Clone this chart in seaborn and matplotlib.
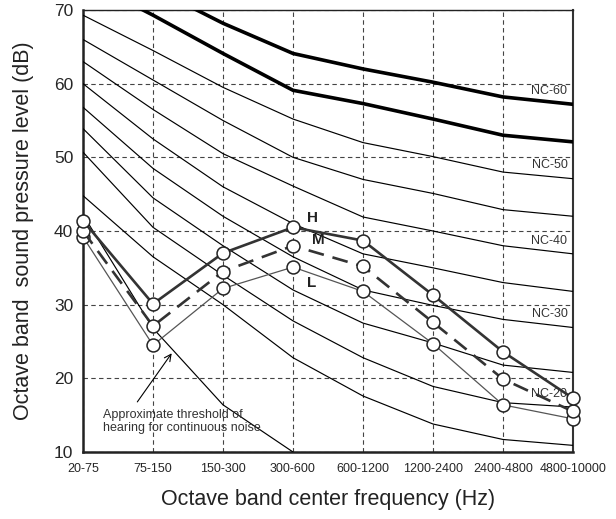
import numpy as np
import pandas as pd
import matplotlib
matplotlib.use("Agg")
import matplotlib.pyplot as plt
from matplotlib.ticker import MultipleLocator
import seaborn as sns

# ---------------- data ----------------
bands = ["20-75", "75-150", "150-300", "300-600", "600-1200",
         "1200-2400", "2400-4800", "4800-10000"]

nc_names = ["NC-15", "NC-20", "NC-25", "NC-30", "NC-35",
            "NC-40", "NC-45", "NC-50", "NC-55", "NC-60"]
nc15 = [44.8, 36.5, 30.0, 22.8, 17.6, 13.8, 11.7, 10.9]
nc20 = [50.7, 40.5, 34.0, 27.8, 22.8, 18.9, 16.7, 16.1]
nc25 = [53.9, 44.5, 38.0, 32.0, 27.5, 24.8, 21.8, 20.8]
nc30 = [56.8, 48.5, 42.0, 36.5, 32.0, 29.9, 28.0, 26.9]
nc35 = [60.0, 52.5, 46.0, 41.0, 36.9, 35.0, 33.0, 31.8]
nc40 = [63.0, 56.5, 50.5, 46.1, 41.9, 40.0, 38.0, 36.9]
nc45 = [66.0, 60.5, 55.0, 50.0, 47.0, 45.1, 42.9, 42.0]
nc50 = [69.3, 64.5, 59.5, 55.2, 52.0, 50.1, 48.0, 47.1]
nc55 = [74.2, 69.3, 64.1, 59.1, 57.3, 55.2, 53.0, 52.1]
nc60 = [78.5, 73.0, 68.2, 64.1, 62.0, 60.2, 58.2, 57.2]
nc_values = [nc15, nc20, nc25, nc30, nc35, nc40, nc45, nc50, nc55, nc60]
nc_bold = ["NC-55", "NC-60"]
nc_labeled = ["NC-20", "NC-30", "NC-40", "NC-50", "NC-60"]

threshold = [42.2, 26.8, 16.4, 10.0]

level_H = [41.4, 30.1, 37.0, 40.5, 38.7, 31.3, 23.6, 17.3]
level_M = [40.0, 27.1, 34.5, 38.0, 35.2, 27.6, 19.9, 15.5]
level_L = [39.2, 24.5, 32.2, 35.1, 31.8, 24.7, 16.4, 14.5]

y_ticks = [10, 20, 30, 40, 50, 60, 70]

# ---------------- style ----------------
sns.set_theme(style="white")
plt.rcParams["font.family"] = ["Liberation Sans", "DejaVu Sans"]

fig = plt.figure(figsize=(6.16, 5.19), dpi=100)
ax = fig.add_axes([83 / 616, 1 - 452 / 519, 490 / 616, 442 / 519])

pos = np.arange(len(bands))

# NC curves
for name, vals in zip(nc_names, nc_values):
    lw = 2.6 if name in nc_bold else 0.85
    sns.lineplot(x=pos, y=vals, ax=ax, color="black", lw=lw, sort=False,
                 estimator=None, legend=False, zorder=3)

# threshold of hearing
sns.lineplot(x=pos[:len(threshold)], y=threshold, ax=ax, color="black",
             lw=0.85, sort=False, estimator=None, legend=False, zorder=3)

# measured levels
mk = dict(marker="o", markersize=9.3, markerfacecolor="white",
          markeredgecolor="#222222", markeredgewidth=1.1, clip_on=False,
          sort=False, estimator=None, legend=False, zorder=6)
sns.lineplot(x=pos, y=level_L, ax=ax, color="#555555", lw=0.9, **mk)
sns.lineplot(x=pos, y=level_M, ax=ax, color="#333333", lw=1.9,
             linestyle=(0, (6, 3.4)), **mk)
sns.lineplot(x=pos, y=level_H, ax=ax, color="#333333", lw=1.9, **mk)

# labels for series
ax.text(3.2, 41.8, "H", fontsize=11, fontweight="bold", color="#222222",
        ha="left", va="center", zorder=7)
ax.text(3.27, 38.8, "M", fontsize=11, fontweight="bold", color="#222222",
        ha="left", va="center", zorder=7)
ax.text(3.2, 32.9, "L", fontsize=11, fontweight="bold", color="#222222",
        ha="left", va="center", zorder=7)

# NC labels
for name, vals in zip(nc_names, nc_values):
    if name in nc_labeled:
        ax.text(6.92, vals[-1] + 1.8, name, fontsize=9, color="#333333",
                ha="right", va="center", zorder=7)

# threshold annotation
ax.annotate("", xy=(1.267, 23.4), xytext=(0.776, 16.8),
            arrowprops=dict(arrowstyle="->", color="black", lw=0.8,
                            shrinkA=0, shrinkB=0), zorder=7)
ax.text(0.29, 14.2, "Approximate threshold of\nhearing for continuous noise",
        fontsize=9, color="#333333", ha="left", va="center",
        linespacing=1.1, zorder=7)

# axes
ax.set_xlim(0, len(bands) - 1)
ax.set_ylim(y_ticks[0], y_ticks[-1])
ax.set_xticks(pos)
ax.set_xticklabels(bands, fontsize=9)
ax.set_yticks(y_ticks)
ax.set_yticklabels([str(t) for t in y_ticks], fontsize=12.5)
ax.yaxis.set_minor_locator(MultipleLocator(2))
ax.tick_params(axis="y", which="major", direction="in", length=5,
               width=1, color="#333333", pad=7)
ax.tick_params(axis="y", which="minor", direction="in", length=4,
               width=0.8, color="#333333")
ax.tick_params(axis="x", which="major", length=0, pad=8)

ax.grid(True, which="major", linestyle=(0, (4, 3)), color="#444444",
        lw=0.8)
ax.set_axisbelow(True)

for side in ["left", "bottom"]:
    ax.spines[side].set_linewidth(1.8)
    ax.spines[side].set_color("#222222")
ax.spines["top"].set_linewidth(1.0)
ax.spines["top"].set_color("#222222")
ax.spines["right"].set_linewidth(1.5)
ax.spines["right"].set_color("#333333")

ax.set_xlabel("Octave band center frequency (Hz)", fontsize=15.5,
              labelpad=10, color="#222222")
ax.set_ylabel("Octave band  sound pressure level (dB)", fontsize=15.5,
              labelpad=14, color="#222222")

fig.savefig("out.png", dpi=100)
